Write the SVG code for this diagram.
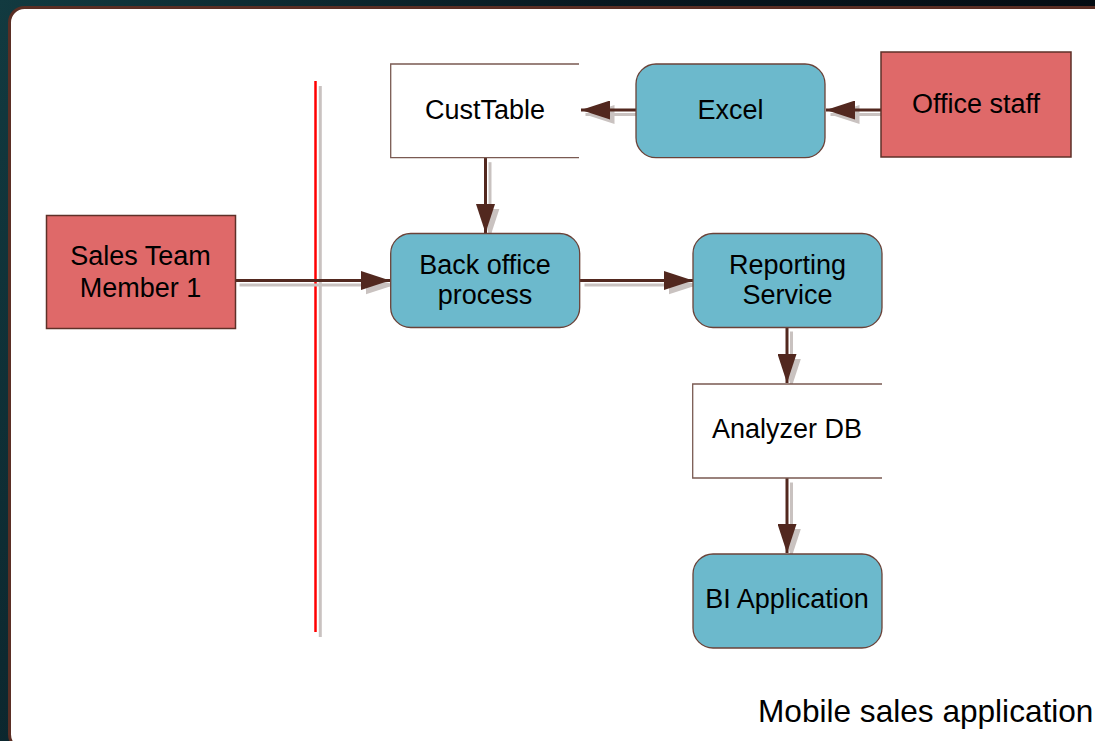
<svg xmlns="http://www.w3.org/2000/svg" width="1095" height="741" viewBox="0 0 1095 741">
<defs>
<linearGradient id="bg" x1="0" y1="0" x2="1" y2="0.3">
<stop offset="0" stop-color="#123a40"/>
<stop offset="0.5" stop-color="#081820"/>
<stop offset="1" stop-color="#040a10"/>
</linearGradient>
<marker id="ah" viewBox="0 0 29 19" refX="29" refY="9.5" markerWidth="29" markerHeight="19" markerUnits="userSpaceOnUse" orient="auto">
<path d="M0,0 L29,9.5 L0,19 Z" fill="#52281f"/>
</marker>
<marker id="ahs" viewBox="0 0 29 19" refX="29" refY="9.5" markerWidth="29" markerHeight="19" markerUnits="userSpaceOnUse" orient="auto">
<path d="M0,0 L29,9.5 L0,19 Z" fill="#c9c2c0"/>
</marker>
</defs>
<style>
.t{font-family:"Liberation Sans",Arial,sans-serif;font-size:27px;fill:#000;text-anchor:middle}
.actor{fill:#df6969;stroke:#5e3028;stroke-width:1.5}
.proc{fill:#6cb9cc;stroke:#6b4238;stroke-width:1.3}
.store{fill:#fff;stroke:#7a5a52;stroke-width:1.3}
.c{fill:none;stroke:#52281f;stroke-width:3;marker-end:url(#ah)}
.s{fill:none;stroke:#c9c2c0;stroke-width:3;marker-end:url(#ahs)}
</style>
<rect x="0" y="0" width="1095" height="741" fill="url(#bg)"/>
<rect x="9.5" y="7.5" width="1110" height="742" rx="15" fill="#fff" stroke="#5a2e24" stroke-width="3"/>

<g id="boundary">
<line x1="320.3" y1="86" x2="320.3" y2="637" stroke="#c9c2c0" stroke-width="3"/>
<line x1="315.5" y1="81" x2="315.5" y2="632" stroke="#ff0000" stroke-width="2.5"/>
</g>

<g id="connectors">
<g transform="translate(4.5,4.5)">
<path class="s" d="M881,110 H826"/>
<path class="s" d="M636,110 H581"/>
<path class="s" d="M485.5,157.7 V233"/>
<path class="s" d="M235,280.5 H390"/>
<path class="s" d="M580,280.5 H693"/>
<path class="s" d="M787,327 V383"/>
<path class="s" d="M787,478 V553"/>
</g>
<path class="c" d="M881,110 H826"/>
<path class="c" d="M636,110 H581"/>
<path class="c" d="M485.5,157.7 V233"/>
<path class="c" d="M235,280.5 H390"/>
<path class="c" d="M580,280.5 H693"/>
<path class="c" d="M787,327 V383"/>
<path class="c" d="M787,478 V553"/>
</g>

<g id="custtable">
<path class="store" d="M579,64 H390.7 V157.7 H579"/>
<text class="t" x="485" y="119">CustTable</text>
</g>
<g id="excel">
<rect class="proc" x="636" y="64" width="189" height="93.7" rx="20"/>
<text class="t" x="730.5" y="119">Excel</text>
</g>
<g id="office-staff">
<rect class="actor" x="881" y="52" width="190" height="105"/>
<text class="t" x="976" y="113">Office staff</text>
</g>
<g id="sales-team">
<rect class="actor" x="46.5" y="215.5" width="189" height="113"/>
<text class="t" x="140.5" y="265">Sales Team</text>
<text class="t" x="140.5" y="297">Member 1</text>
</g>
<g id="back-office">
<rect class="proc" x="390.7" y="233.5" width="189" height="94" rx="20"/>
<text class="t" x="485" y="274">Back office</text>
<text class="t" x="485" y="304">process</text>
</g>
<g id="reporting-service">
<rect class="proc" x="693" y="233.5" width="189" height="94" rx="20"/>
<text class="t" x="787.5" y="274">Reporting</text>
<text class="t" x="787.5" y="304">Service</text>
</g>
<g id="analyzer-db">
<path class="store" d="M882,384 H692.7 V478 H882"/>
<text class="t" x="787" y="438">Analyzer DB</text>
</g>
<g id="bi-application">
<rect class="proc" x="693" y="554" width="189" height="94" rx="20"/>
<text class="t" x="787" y="608">BI Application</text>
</g>
<text x="758" y="722" font-family="Liberation Sans, Arial, sans-serif" font-size="31.6" fill="#000">Mobile sales application</text>
</svg>
